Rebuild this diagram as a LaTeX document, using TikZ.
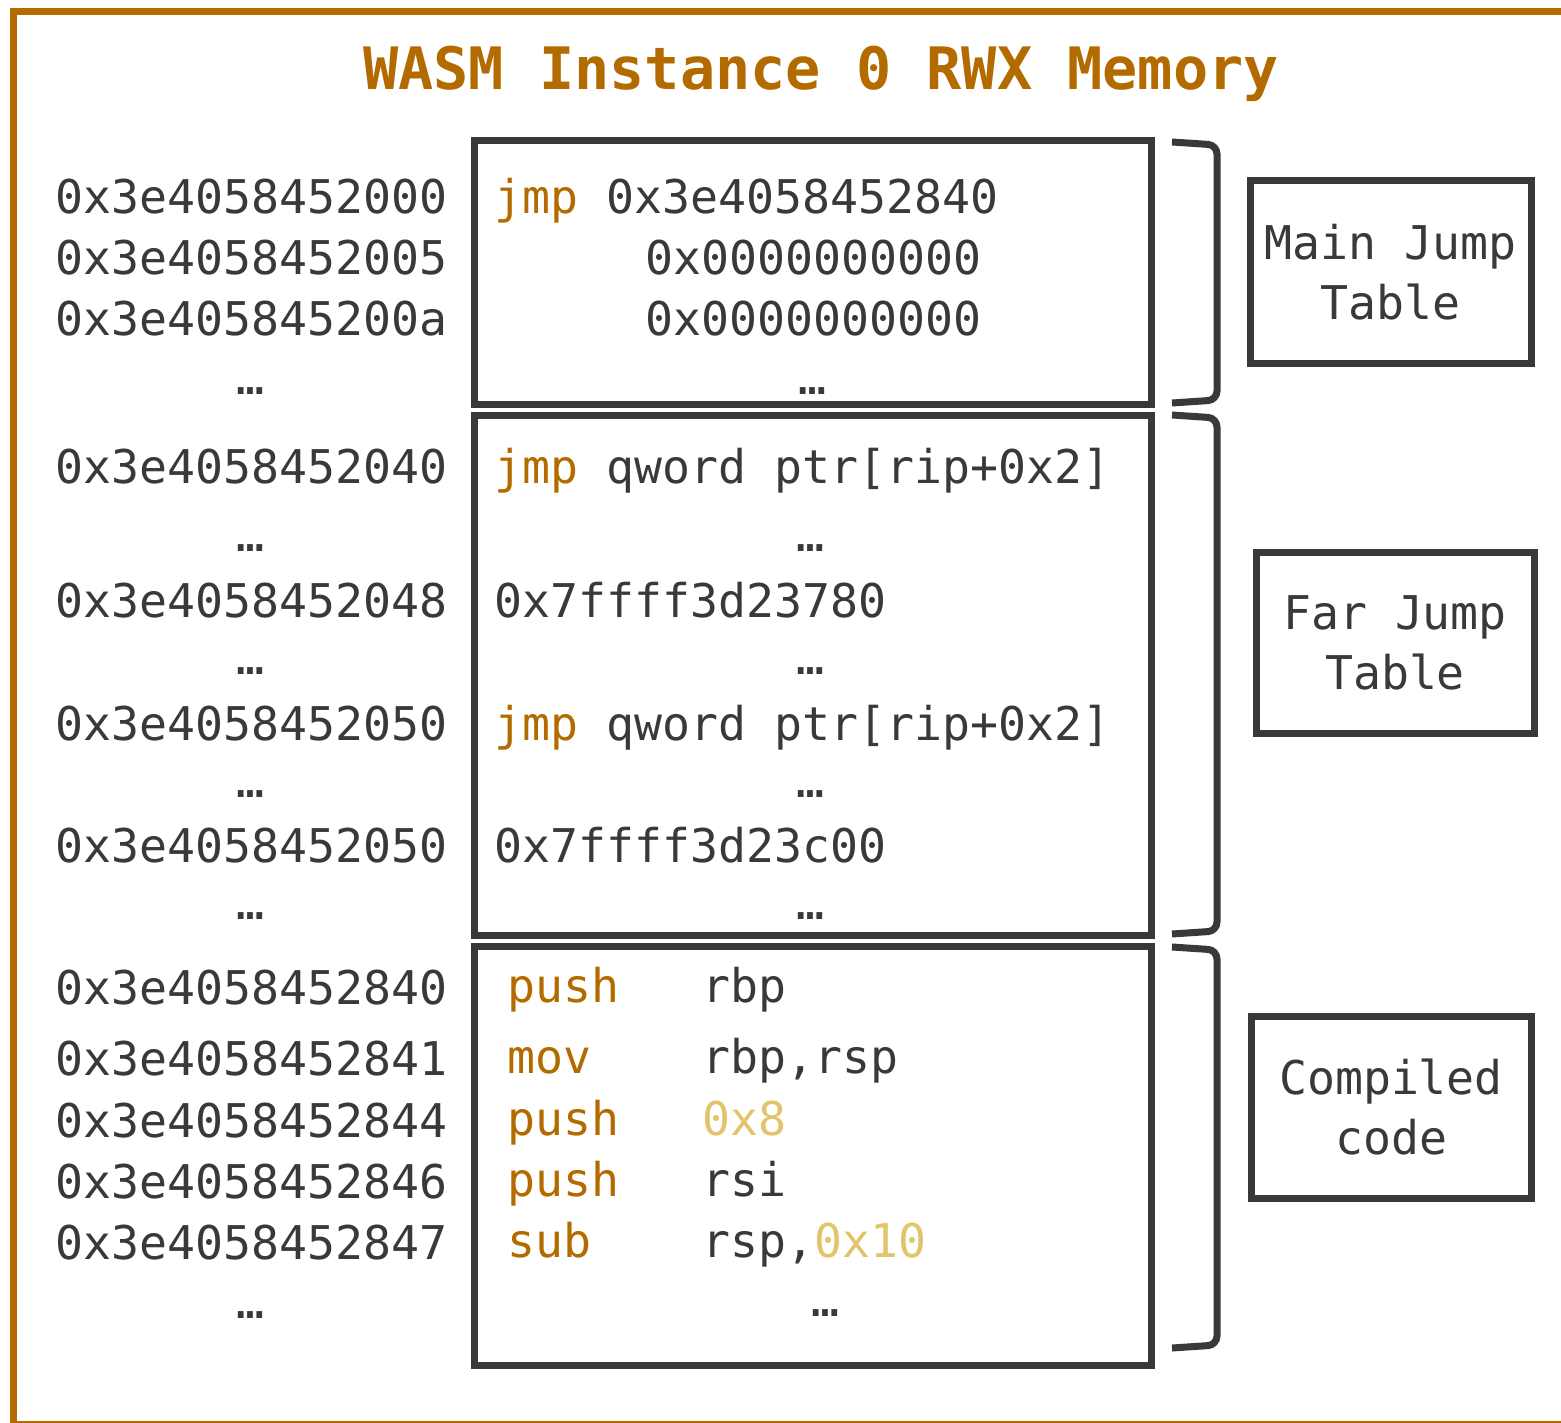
\documentclass[tikz,border=0pt]{standalone}
\usepackage{fontspec}
\setmonofont{DejaVu Sans Mono}
\definecolor{dk}{HTML}{393939}
\definecolor{org}{HTML}{B36B00}
\definecolor{gld}{HTML}{E2C46C}
\tikzset{
  txt/.style={font=\ttfamily\fontsize{46.5}{50}\selectfont, text=dk, inner sep=0pt, anchor=base west},
  dots/.style={font=\ttfamily\fontsize{46.5}{50}\selectfont, text=dk, inner sep=0pt, anchor=base},
  memb/.style={draw=dk, line width=7pt, inner sep=0pt},
  lbl/.style={draw=dk, line width=7pt, inner sep=0pt, align=center, text=dk,
    font=\ttfamily\fontsize{46.5}{60}\selectfont},
  brk/.style={draw=dk, line width=7pt, rounded corners=9pt},
}
\begin{document}
\begin{tikzpicture}[x=1pt,y=-1pt]
\useasboundingbox (0,0) rectangle (1561,1423);
\begin{scope}
\clip (0,0) rectangle (1561,1423);
\draw[org, line width=7.5pt] (13.5,11.5) rectangle (1580,1425);
\end{scope}
\node[font=\ttfamily\bfseries\fontsize{58.5}{60}\selectfont, text=org, inner sep=0pt, anchor=base] (title) at (821,90) {WASM Instance 0 RWX Memory};

% memory boxes
\node[memb, minimum width=677pt, minimum height=263pt] (b1) at (812.5,272.5) {};
\node[memb, minimum width=677pt, minimum height=520pt] (b2) at (812.5,675) {};
\node[memb, minimum width=677pt, minimum height=419pt] (b3) at (812.5,1155.5) {};

% brackets
\draw[brk] (1172,142) -- (1217,145) -- (1217,400) -- (1172,403);
\draw[brk] (1172,415) -- (1217,418) -- (1217,931) -- (1172,934);
\draw[brk] (1172,947) -- (1217,950) -- (1217,1345) -- (1172,1348);

% label boxes
\node[lbl, minimum width=281pt, minimum height=182pt] (l1) at (1390.5,272) {Main Jump\\Table};
\node[lbl, minimum width=278pt, minimum height=181pt] (l2) at (1395,642.5) {Far Jump\\Table};
\node[lbl, minimum width=280pt, minimum height=182pt] (l3) at (1391,1107) {Compiled\\code};

% addresses
\node[txt] (a1) at (55,214) {0x3e4058452000};
\node[txt] (a2) at (55,275) {0x3e4058452005};
\node[txt] (a3) at (55,336) {0x3e405845200a};
\node[dots] (a4) at (250,394) {…};
\node[txt] (a5) at (55,483) {0x3e4058452040};
\node[dots] (a6) at (250,551) {…};
\node[txt] (a7) at (55,617) {0x3e4058452048};
\node[dots] (a8) at (250,674) {…};
\node[txt] (a9) at (55,740) {0x3e4058452050};
\node[dots] (a10) at (250,797) {…};
\node[txt] (a11) at (55,862) {0x3e4058452050};
\node[dots] (a12) at (250,919) {…};
\node[txt] (a13) at (55,1004) {0x3e4058452840};
\node[txt] (a14) at (55,1075) {0x3e4058452841};
\node[txt] (a15) at (55,1137) {0x3e4058452844};
\node[txt] (a16) at (55,1198) {0x3e4058452846};
\node[txt] (a17) at (55,1259) {0x3e4058452847};
\node[dots] (a18) at (250,1318) {…};

% box 1 contents
\node[txt] (c1) at (494,214) {\textcolor{org}{jmp} 0x3e4058452840};
\node[txt] (c2) at (645,275) {0x0000000000};
\node[txt] (c3) at (645,336) {0x0000000000};
\node[dots] (c4) at (812,394) {…};

% box 2 contents
\node[txt] (d1) at (494,483) {\textcolor{org}{jmp} qword ptr[rip+0x2]};
\node[dots] (d2) at (810,551) {…};
\node[txt] (d3) at (494,617) {0x7ffff3d23780};
\node[dots] (d4) at (810,674) {…};
\node[txt] (d5) at (494,740) {\textcolor{org}{jmp} qword ptr[rip+0x2]};
\node[dots] (d6) at (810,797) {…};
\node[txt] (d7) at (494,862) {0x7ffff3d23c00};
\node[dots] (d8) at (810,919) {…};

% box 3 contents
\node[txt, text=org] (m1) at (507,1002) {push};
\node[txt] (o1) at (702,1002) {rbp};
\node[txt, text=org] (m2) at (507,1073) {mov};
\node[txt] (o2) at (702,1073) {rbp,rsp};
\node[txt, text=org] (m3) at (507,1135) {push};
\node[txt, text=gld] (o3) at (702,1135) {0x8};
\node[txt, text=org] (m4) at (507,1196) {push};
\node[txt] (o4) at (702,1196) {rsi};
\node[txt, text=org] (m5) at (507,1257) {sub};
\node[txt] (o5) at (702,1257) {rsp,\textcolor{gld}{0x10}};
\node[dots] (e1) at (825,1316) {…};
\end{tikzpicture}
\end{document}
